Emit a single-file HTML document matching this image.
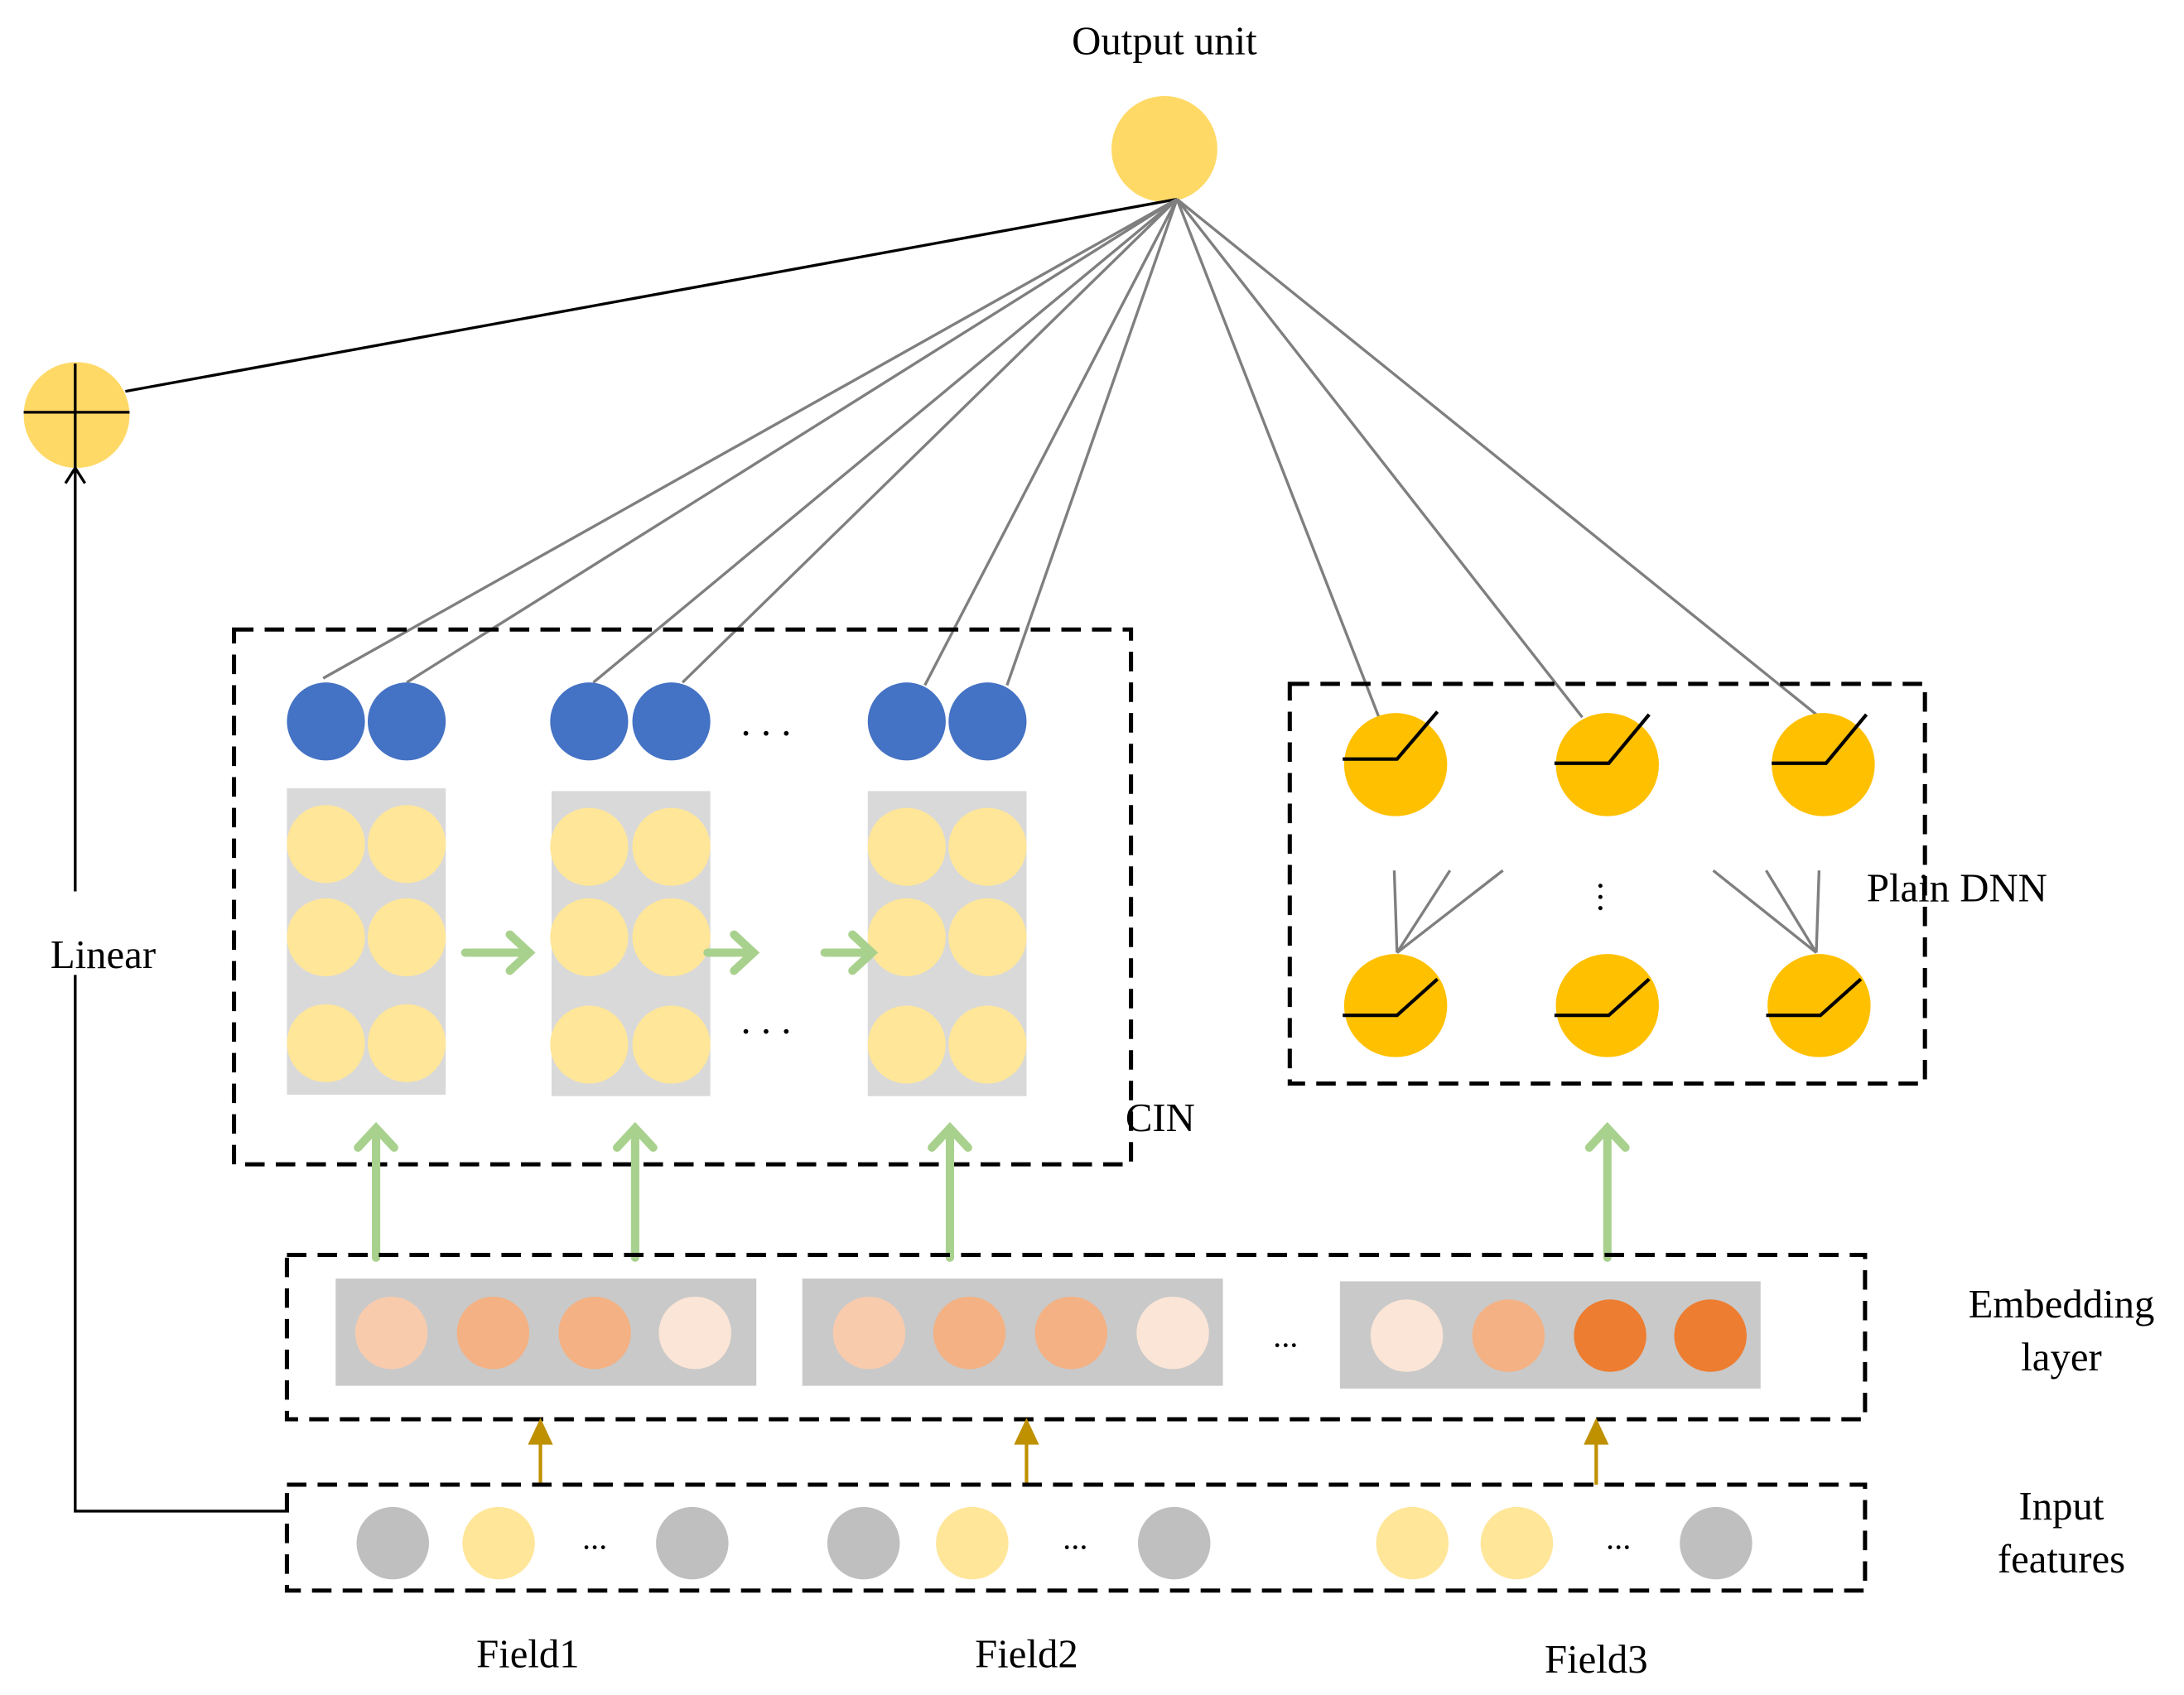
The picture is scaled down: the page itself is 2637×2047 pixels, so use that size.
<!DOCTYPE html>
<html><head><meta charset="utf-8"><style>html,body{margin:0;padding:0;background:#fff}svg{display:block}</style></head>
<body>
<svg width="2637" height="2047" viewBox="0 0 1568 1217" preserveAspectRatio="none" xmlns="http://www.w3.org/2000/svg" font-family="Liberation Serif, serif" font-size="29">
<defs>
<marker id="ga" markerWidth="10" markerHeight="10" refX="5" refY="5" orient="auto" markerUnits="userSpaceOnUse"/>
</defs>
<rect width="1568" height="1217" fill="#fff"/>
<text x="836" y="39" text-anchor="middle">Output unit</text>
<circle cx="836" cy="107" r="38" fill="#ffd966"/>
<circle cx="55" cy="298" r="38" fill="#ffd966"/>
<line x1="17" y1="296" x2="93" y2="296" stroke="#000" stroke-width="2"/>
<line x1="54" y1="261" x2="54" y2="336" stroke="#000" stroke-width="2"/>
<line x1="90" y1="281" x2="845" y2="143" stroke="#000" stroke-width="2"/>
<g stroke="#7f7f7f" stroke-width="2">
<line x1="845" y1="143" x2="232" y2="487"/>
<line x1="845" y1="143" x2="292" y2="490"/>
<line x1="845" y1="143" x2="426" y2="490"/>
<line x1="845" y1="143" x2="490" y2="490"/>
<line x1="845" y1="143" x2="664" y2="492"/>
<line x1="845" y1="143" x2="723" y2="492"/>
<line x1="845" y1="143" x2="990" y2="515"/>
<line x1="845" y1="143" x2="1136" y2="515"/>
<line x1="845" y1="143" x2="1304" y2="513"/>
</g>
<!-- linear path -->
<polyline points="205,1085 54,1085 54,700" fill="none" stroke="#000" stroke-width="2"/>
<line x1="54" y1="640" x2="54" y2="338" stroke="#000" stroke-width="2"/>
<polyline points="47,347 54,336 61,347" fill="none" stroke="#000" stroke-width="2"/>
<text x="74" y="695" text-anchor="middle">Linear</text>
<!-- CIN -->
<rect x="168" y="452" width="644" height="384" fill="none" stroke="#000" stroke-width="3" stroke-dasharray="14,8"/>
<g fill="#d9d9d9">
<rect x="206" y="566" width="114" height="220"/>
<rect x="396" y="568" width="114" height="219"/>
<rect x="623" y="568" width="114" height="219"/>
</g>
<g fill="#4472c4">
<circle cx="234" cy="518" r="28"/><circle cx="292" cy="518" r="28"/>
<circle cx="423" cy="518" r="28"/><circle cx="482" cy="518" r="28"/>
<circle cx="651" cy="518" r="28"/><circle cx="709" cy="518" r="28"/>
</g>
<g fill="#ffe699">
<circle cx="234" cy="606" r="28"/><circle cx="292" cy="606" r="28"/>
<circle cx="234" cy="673" r="28"/><circle cx="292" cy="673" r="28"/>
<circle cx="234" cy="749" r="28"/><circle cx="292" cy="749" r="28"/>
<circle cx="423" cy="608" r="28"/><circle cx="482" cy="608" r="28"/>
<circle cx="423" cy="673" r="28"/><circle cx="482" cy="673" r="28"/>
<circle cx="423" cy="750" r="28"/><circle cx="482" cy="750" r="28"/>
<circle cx="651" cy="608" r="28"/><circle cx="709" cy="608" r="28"/>
<circle cx="651" cy="673" r="28"/><circle cx="709" cy="673" r="28"/>
<circle cx="651" cy="750" r="28"/><circle cx="709" cy="750" r="28"/>
</g>
<text x="550" y="528" text-anchor="middle">. . .</text>
<text x="550" y="742" text-anchor="middle">. . .</text>
<g stroke="#a9d18e" stroke-width="6" fill="none" stroke-linecap="round">
<line x1="334" y1="684" x2="380" y2="684"/><polyline points="366,671 380,684 366,697"/>
<line x1="508" y1="684" x2="541" y2="684"/><polyline points="527,671 541,684 527,697"/>
<line x1="592" y1="684" x2="626" y2="684"/><polyline points="612,671 626,684 612,697"/>
<line x1="270" y1="903" x2="270" y2="810"/><polyline points="257,824 270,810 283,824"/>
<line x1="456" y1="903" x2="456" y2="810"/><polyline points="443,824 456,810 469,824"/>
<line x1="682" y1="903" x2="682" y2="810"/><polyline points="669,824 682,810 695,824"/>
<line x1="1154" y1="903" x2="1154" y2="810"/><polyline points="1141,824 1154,810 1167,824"/>
</g>
<text x="808" y="812">CIN</text>
<!-- DNN -->
<rect x="926" y="491" width="456" height="287" fill="none" stroke="#000" stroke-width="3" stroke-dasharray="14,8"/>
<g fill="#ffc000">
<ellipse cx="1002" cy="549" rx="37" ry="37"/><ellipse cx="1154" cy="549" rx="37" ry="37"/><ellipse cx="1309" cy="549" rx="37" ry="37"/>
<ellipse cx="1002" cy="722" rx="37" ry="37"/><ellipse cx="1154" cy="722" rx="37" ry="37"/><ellipse cx="1306" cy="722" rx="37" ry="37"/>
</g>
<g stroke="#000" stroke-width="2.5" fill="none">
<polyline points="964,545 1003,545 1032,511"/>
<polyline points="1116,548 1155,548 1184,513"/>
<polyline points="1272,548 1311,548 1340,513"/>
<polyline points="964,729 1003,729 1032,703"/>
<polyline points="1116,729 1155,729 1184,703"/>
<polyline points="1268,729 1307,729 1336,703"/>
</g>
<g stroke="#7f7f7f" stroke-width="2">
<line x1="1003" y1="684" x2="1001" y2="625"/><line x1="1003" y1="684" x2="1041" y2="625"/><line x1="1003" y1="684" x2="1079" y2="625"/>
<line x1="1304" y1="684" x2="1230" y2="625"/><line x1="1304" y1="684" x2="1268" y2="625"/><line x1="1304" y1="684" x2="1306" y2="625"/>
</g>
<g fill="#000"><circle cx="1149" cy="636" r="1.5"/><circle cx="1149" cy="644" r="1.5"/><circle cx="1149" cy="652" r="1.5"/></g>
<text x="1405" y="647" text-anchor="middle">Plain DNN</text>
<!-- Embedding -->
<rect x="206" y="901" width="1133" height="118" fill="none" stroke="#000" stroke-width="3" stroke-dasharray="14,8"/>
<g fill="#c9c9c9">
<rect x="241" y="918" width="302" height="77"/>
<rect x="576" y="918" width="302" height="77"/>
<rect x="962" y="920" width="302" height="77"/>
</g>
<circle cx="281" cy="957" r="26" fill="#f8cbad"/><circle cx="354" cy="957" r="26" fill="#f4b183"/><circle cx="427" cy="957" r="26" fill="#f4b183"/><circle cx="499" cy="957" r="26" fill="#fbe5d6"/>
<circle cx="624" cy="957" r="26" fill="#f8cbad"/><circle cx="696" cy="957" r="26" fill="#f4b183"/><circle cx="769" cy="957" r="26" fill="#f4b183"/><circle cx="842" cy="957" r="26" fill="#fbe5d6"/>
<circle cx="1010" cy="959" r="26" fill="#fbe5d6"/><circle cx="1083" cy="959" r="26" fill="#f4b183"/><circle cx="1156" cy="959" r="26" fill="#ed7d31"/><circle cx="1228" cy="959" r="26" fill="#ed7d31"/>
<text x="923" y="967" text-anchor="middle" font-size="24">...</text>
<text x="1480" y="946" text-anchor="middle">Embedding</text>
<text x="1480" y="984" text-anchor="middle">layer</text>
<!-- gold arrows -->
<g stroke="#bf9000" stroke-width="2.5" fill="#bf9000">
<line x1="388" y1="1066" x2="388" y2="1034"/><polygon points="381,1036 388,1021 395,1036"/>
<line x1="737" y1="1066" x2="737" y2="1034"/><polygon points="730,1036 737,1021 744,1036"/>
<line x1="1146" y1="1066" x2="1146" y2="1034"/><polygon points="1139,1036 1146,1021 1153,1036"/>
</g>
<!-- Input -->
<rect x="206" y="1066" width="1133" height="76" fill="none" stroke="#000" stroke-width="3" stroke-dasharray="14,8"/>
<circle cx="282" cy="1108" r="26" fill="#bfbfbf"/><circle cx="358" cy="1108" r="26" fill="#ffe699"/><circle cx="497" cy="1108" r="26" fill="#bfbfbf"/>
<circle cx="620" cy="1108" r="26" fill="#bfbfbf"/><circle cx="698" cy="1108" r="26" fill="#ffe699"/><circle cx="843" cy="1108" r="26" fill="#bfbfbf"/>
<circle cx="1014" cy="1108" r="26" fill="#ffe699"/><circle cx="1089" cy="1108" r="26" fill="#ffe699"/><circle cx="1232" cy="1108" r="26" fill="#bfbfbf"/>
<text x="427" y="1112" text-anchor="middle" font-size="24">...</text>
<text x="772" y="1112" text-anchor="middle" font-size="24">...</text>
<text x="1162" y="1112" text-anchor="middle" font-size="24">...</text>
<text x="1480" y="1091" text-anchor="middle">Input</text>
<text x="1480" y="1129" text-anchor="middle">features</text>
<text x="379" y="1197" text-anchor="middle">Field1</text>
<text x="737" y="1197" text-anchor="middle">Field2</text>
<text x="1146" y="1201" text-anchor="middle">Field3</text>
</svg>
</body></html>
